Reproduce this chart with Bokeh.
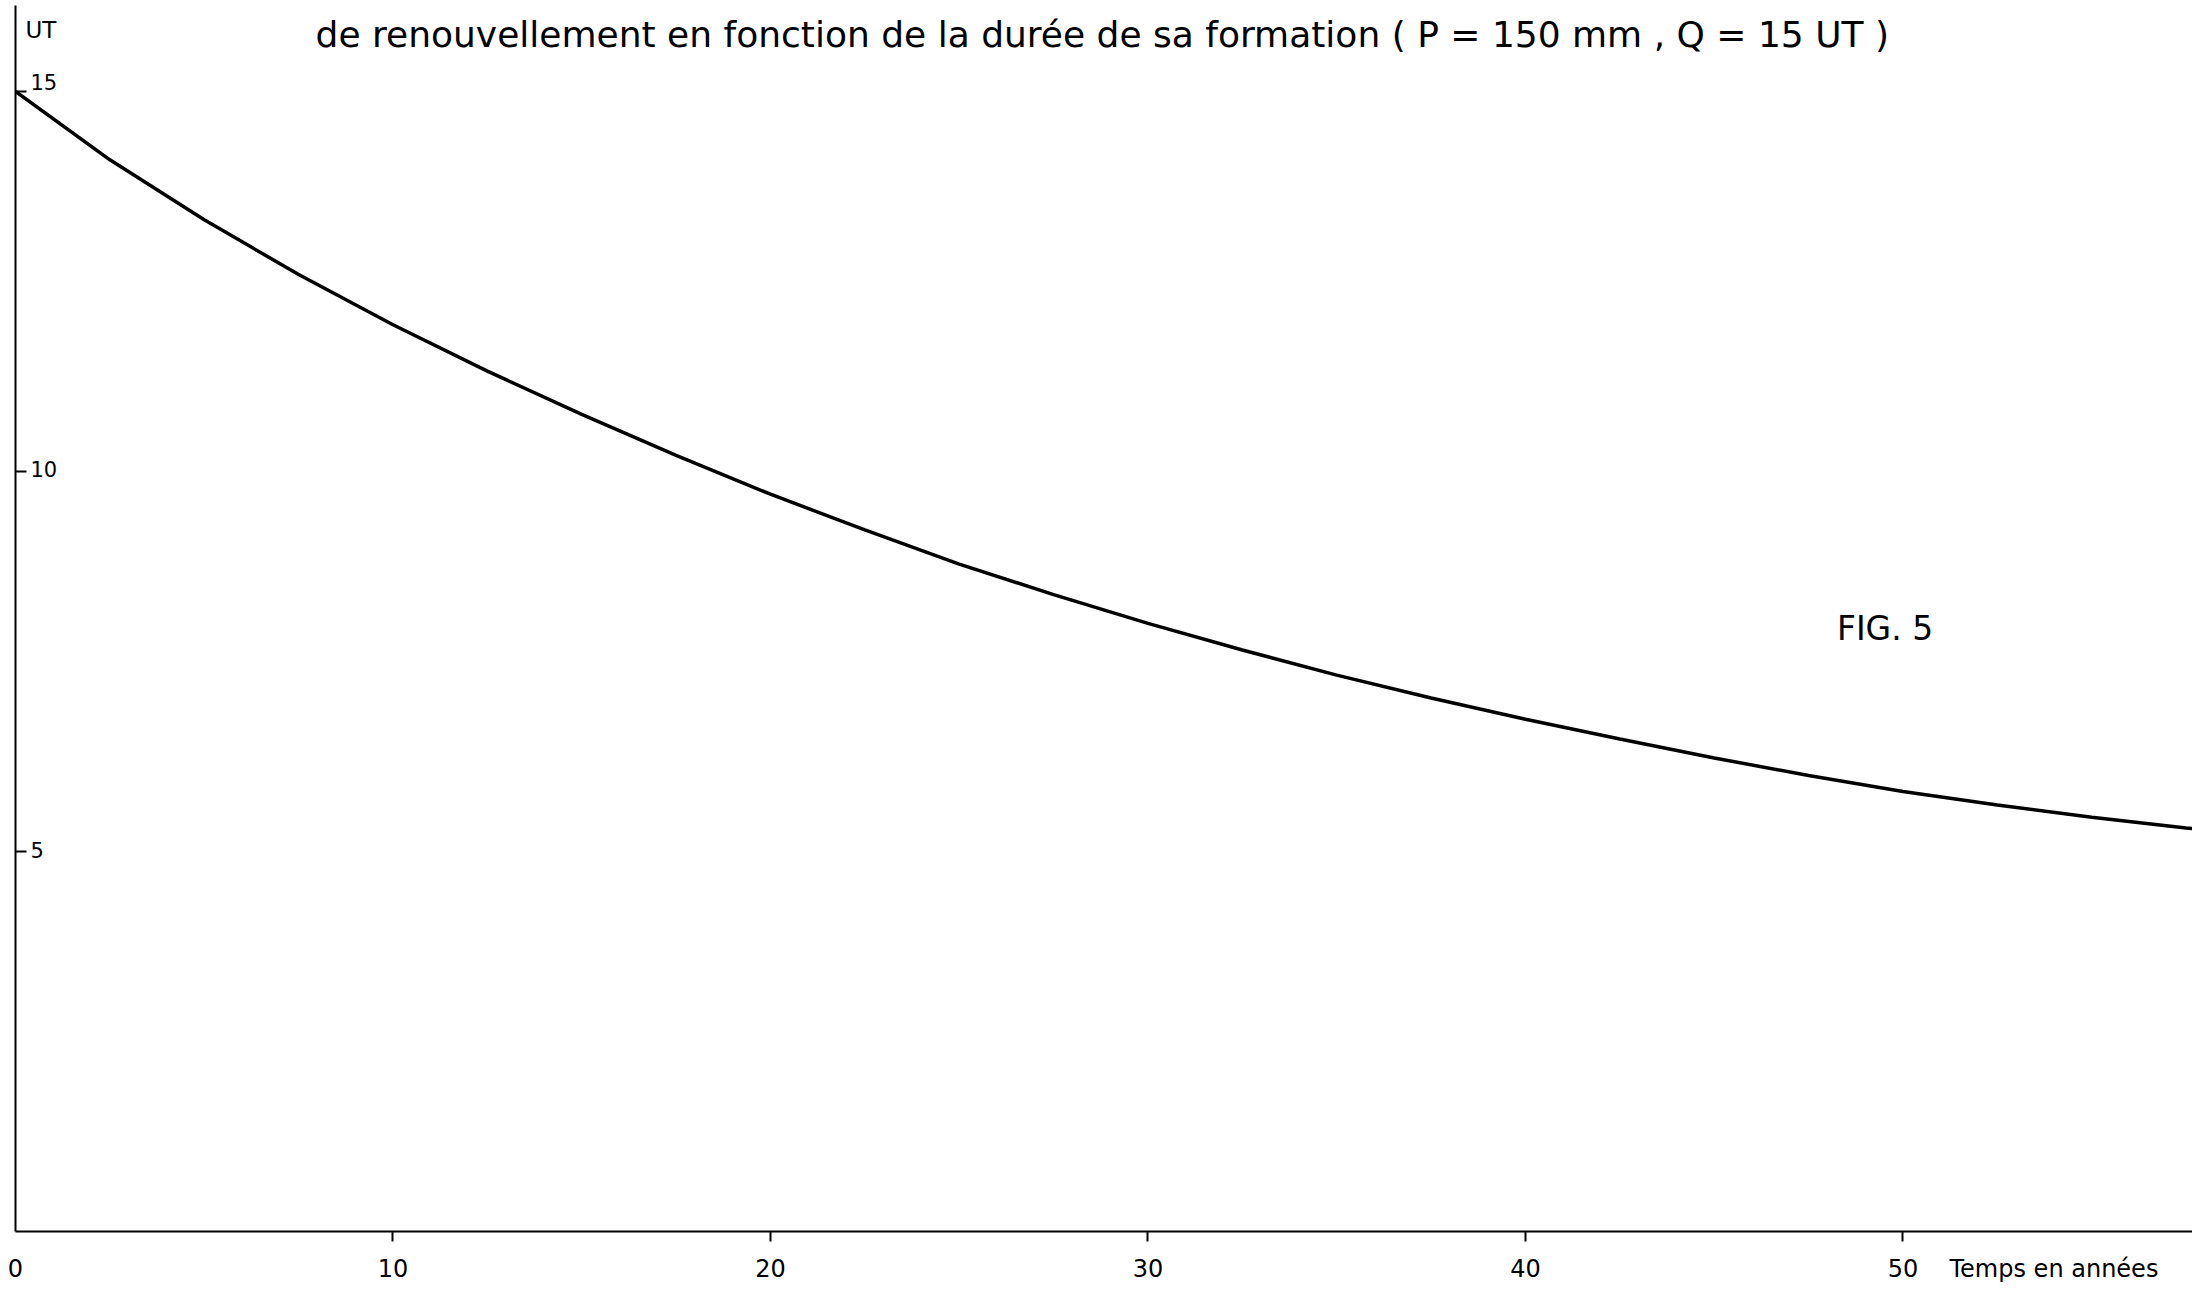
from bokeh.plotting import figure
from bokeh.models import Range1d, FixedTicker, Label, ColumnDataSource
from bokeh.core.properties import value
from bokeh.embed import file_html
from bokeh.resources import INLINE

# Data: time (years) vs UT
years = [0, 2.5, 5, 7.5, 10, 12.5, 15, 17.5, 20, 22.5, 25, 27.5, 30,
         32.5, 35, 37.5, 40, 42.5, 45, 47.5, 50, 52.5, 55, 57.5, 57.7]
ut = [15.00, 14.10, 13.31, 12.59, 11.93, 11.32, 10.75, 10.21, 9.70, 9.23, 8.78, 8.38, 8.00,
      7.65, 7.32, 7.02, 6.74, 6.48, 6.23, 6.00, 5.79, 5.61, 5.45, 5.31, 5.30]

x_ticks = [0, 10, 20, 30, 40, 50]
x_tick_marks = [10, 20, 30, 40, 50]
y_ticks = [5, 10, 15]
y_tick_labels = ["5", "10", "15"]

title_text = "de renouvellement en fonction de la durée de sa formation ( P = 150 mm , Q = 15 UT )"
x_label_text = "Temps en années"
x_label_at = 54
y_label_text = "UT"
fig_text = "FIG. 5"

FONT = "DejaVu Sans"

p = figure(width=2192, height=1289, output_backend="svg", toolbar_location=None,
           x_range=Range1d(0, 57.67), y_range=Range1d(0, 16.13),
           min_border_left=15, min_border_right=0, min_border_top=5, min_border_bottom=58)
p.background_fill_color = "white"
p.border_fill_color = "white"
p.outline_line_color = None
p.xgrid.visible = False
p.ygrid.visible = False

# x axis: labels on major ticks (incl. the axis title placed in the label row),
# visible tick marks drawn as minor ticks
xa = p.xaxis[0]
xa.ticker = FixedTicker(ticks=x_ticks + [x_label_at], minor_ticks=x_tick_marks)
xa.major_label_overrides = {x_label_at: x_label_text}
xa.major_tick_line_color = None
xa.major_tick_in = 0
xa.major_tick_out = 10
xa.minor_tick_line_color = "black"
xa.minor_tick_line_width = 2
xa.minor_tick_in = 0
xa.minor_tick_out = 10
xa.axis_line_width = 2
xa.axis_line_color = "black"
xa.major_label_standoff = 13
xa.major_label_text_font = FONT
xa.major_label_text_font_size = "24px"
xa.major_label_text_color = "black"

# y axis: line and inward tick marks (as minor ticks, so the axis draws no labels);
# the labels are drawn to the right of the axis
ya = p.yaxis[0]
ya.ticker = FixedTicker(ticks=[], minor_ticks=y_ticks)
ya.major_tick_line_color = None
ya.minor_tick_line_color = "black"
ya.minor_tick_line_width = 2
ya.minor_tick_in = 11
ya.minor_tick_out = 0
ya.major_tick_in = 0
ya.major_tick_out = 0
ya.major_label_standoff = 0
ya.axis_line_width = 2
ya.axis_line_color = "black"

# curve
p.line(years, ut, line_color="black", line_width=3.5)

# y tick labels inside
ysrc = ColumnDataSource(dict(x=[0] * len(y_ticks), y=y_ticks, t=y_tick_labels,
                             dy=[-1, -2, -9]))
p.text(x="x", y="y", text="t", source=ysrc, x_offset=15, y_offset="dy",
       text_baseline="middle", text_align="left",
       text_font=value(FONT), text_font_size="21px", text_color="black")

p.add_layout(Label(x=0, y=16.13, x_offset=10, y_offset=-11, text=y_label_text,
                   text_baseline="top", text_align="left",
                   text_font=FONT, text_font_size="23px", text_color="black"))

p.add_layout(Label(x=7.95, y=15.75, text=title_text, text_baseline="middle",
                   text_align="left", text_font=FONT, text_font_size="36px",
                   text_color="black"))

p.add_layout(Label(x=48.25, y=7.93, text=fig_text, text_baseline="middle",
                   text_align="left", text_font=FONT, text_font_size="33px",
                   text_color="black"))

open("out.html", "w").write(file_html(p, INLINE))
